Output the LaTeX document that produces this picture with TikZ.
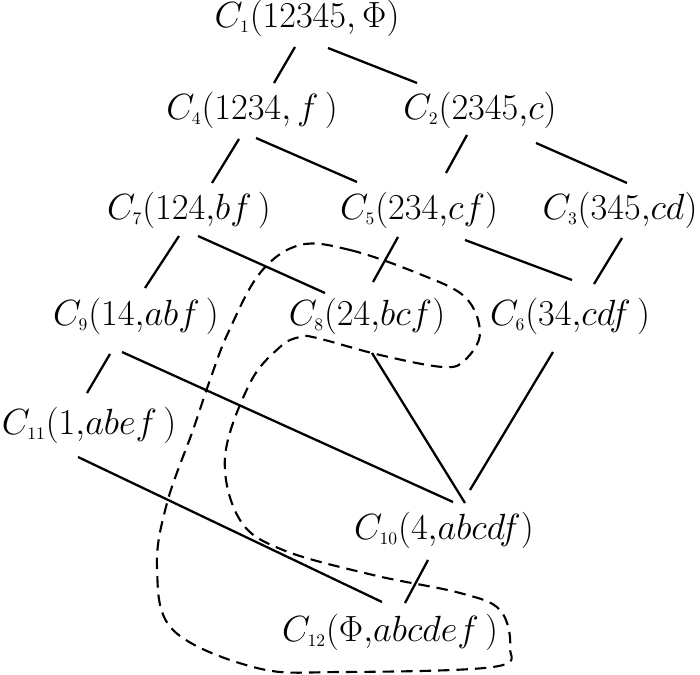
\documentclass[tikz,border=0pt]{standalone}
\usepackage{amsmath}
\usepackage{amsfonts}
\tikzstyle{concept}=[inner sep=0pt,font=\fontsize{19.5}{23}\selectfont]
\tikzstyle{link}=[line width=1.3pt]
\tikzstyle{group}=[line width=1.2pt,dash pattern=on 6.5pt off 4pt]
\newcommand{\cn}[1]{C_{\scriptscriptstyle #1}}

\begin{document}
\begin{tikzpicture}[x=0.02cm,y=-0.02cm]
  \useasboundingbox (0,0) rectangle (700,675);
  \node[concept] (C1) at (307,18) {$\cn{1}(12345,\Phi)$};
  \node[concept] (C4) at (252,110) {$\cn{4}(1234,f\,)$};
  \node[concept] (C2) at (480,110) {$\cn{2}(2345{,}c)$};
  \node[concept] (C7) at (189,210) {$\cn{7}(124{,}bf\,)$};
  \node[concept] (C5) at (419,210) {$\cn{5}(234{,}cf)$};
  \node[concept] (C3) at (620,210) {$\cn{3}(345{,}cd)$};
  \node[concept] (C9) at (136,316) {$\cn{9}(14{,}abf\,)$};
  \node[concept] (C8) at (367,316) {$\cn{8}(24{,}bcf)$};
  \node[concept] (C6) at (570,316) {$\cn{6}(34{,}cdf\,)$};
  \node[concept] (C11) at (89,425) {$\cn{11}(1{,}abef\,)$};
  \node[concept] (C10) at (444,530) {$\cn{10}(4{,}abcdf)$};
  \node[concept] (C12) at (390,632) {$\cn{12}(\Phi{,}abcdef\,)$};
  \draw[link] ([shift={(-12,29)}]C1.center) -- ([shift={(22,-27)}]C4.center);
  \draw[link] ([shift={(21,30)}]C1.center) -- ([shift={(-63,-27)}]C2.center);
  \draw[link] ([shift={(-13,29)}]C4.center) -- ([shift={(23,-27)}]C7.center);
  \draw[link] ([shift={(4,28)}]C4.center) -- ([shift={(-62,-28)}]C5.center);
  \draw[link] ([shift={(-13,25)}]C2.center) -- ([shift={(27,-37)}]C5.center);
  \draw[link] ([shift={(56,33)}]C2.center) -- ([shift={(7,-27)}]C3.center);
  \draw[link] ([shift={(-10,26)}]C7.center) -- ([shift={(9,-28)}]C9.center);
  \draw[link] ([shift={(9,26)}]C7.center) -- ([shift={(-42,-23)}]C8.center);
  \draw[link] ([shift={(-21,27)}]C5.center) -- ([shift={(6,-34)}]C8.center);
  \draw[link] ([shift={(46,30)}]C5.center) -- ([shift={(2,-36)}]C6.center);
  \draw[link] ([shift={(2,28)}]C3.center) -- ([shift={(24,-32)}]C6.center);
  \draw[link] ([shift={(-26,38)}]C9.center) -- ([shift={(-2,-32)}]C11.center);
  \draw[link] ([shift={(-14,36)}]C9.center) -- ([shift={(9,-28)}]C10.center);
  \draw[link] ([shift={(5,37)}]C8.center) -- ([shift={(21,-27)}]C10.center);
  \draw[link] ([shift={(-17,36)}]C6.center) -- ([shift={(26,-40)}]C10.center);
  \draw[link] ([shift={(-11,32)}]C11.center) -- ([shift={(-8,-30)}]C12.center);
  \draw[link] ([shift={(-16,30)}]C10.center) -- ([shift={(15,-29)}]C12.center);
  % the dashed group round C8 and C12
  \draw[group] plot[smooth cycle,tension=0.6] coordinates {
    (300,245) (350,250) (417,273) (465,297) (480,333) (465,360) (443,367)
    (380,355) (317,338) (300,337) (280,347) (250,383) (225,457) (240,520)
    (283,550) (373,575) (460,593) (500,610) (510,647) (493,667) (340,672)
    (257,668) (173,630) (157,567) (167,503) (193,430) (210,380) (228,333)
    (260,273)};
\end{tikzpicture}
\end{document}
